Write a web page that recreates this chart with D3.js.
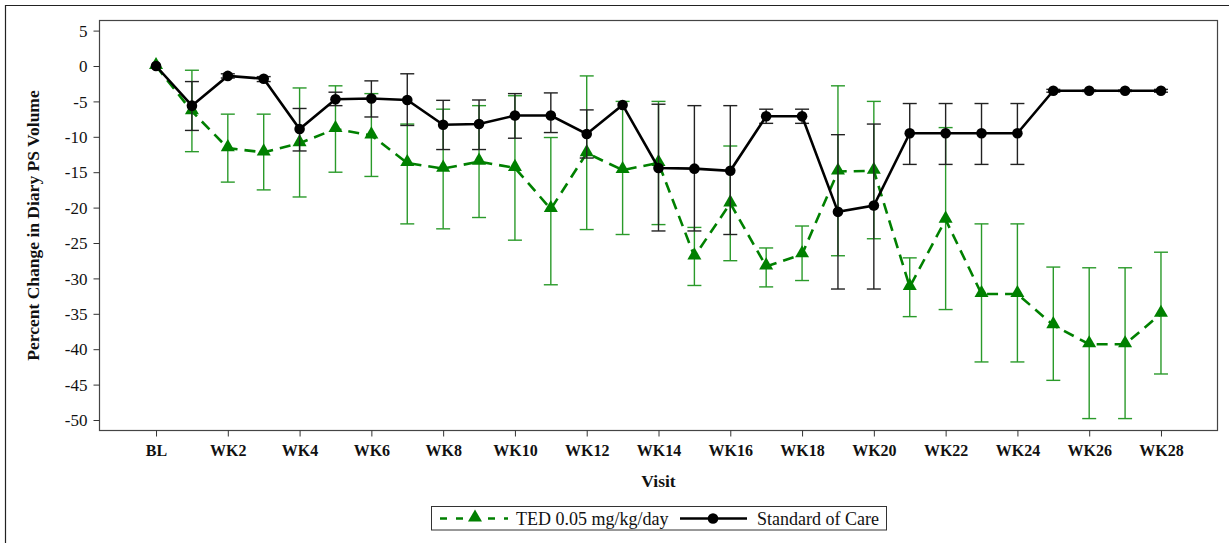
<!DOCTYPE html>
<html>
<head>
<meta charset="utf-8">
<script src="https://cdn.jsdelivr.net/npm/d3@7/dist/d3.min.js"></script>
<style>
  html, body { margin: 0; padding: 0; background: #fff; }
  svg { display: block; }
  svg text { font-family: "Liberation Serif", "Times New Roman", Times, serif !important; }
</style>
</head>
<body>
<div id="chart"></div>
<script>
// Visits: baseline plus weekly visits 1..28
const visits = ["BL"].concat(d3.range(1, 29).map(i => "WK" + i));
const tickVisits = visits.filter((v, i) => i % 2 === 0);
const yTicks = [5, 0, -5, -10, -15, -20, -25, -30, -35, -40, -45, -50];

// TED 0.05 mg/kg/day: mean percent change with lower/upper error limits
const tedMean = [0, -6.4, -11.6, -12.2, -10.9, -8.9, -9.8, -13.7, -14.5, -13.5, -14.4, -20.2, -12.3, -14.7,
  -13.7, -26.9, -19.4, -28.3, -26.6, -14.9, -14.8, -31.2, -21.7, -32.2, -32.2, -36.6, -39.3, -39.3, -35.0];
const tedLow = [0, -12.1, -16.4, -17.5, -18.5, -15.0, -15.6, -22.3, -23.0, -21.4, -24.6, -30.9, -23.1, -23.8,
  -22.4, -31.0, -27.5, -31.2, -30.3, -26.8, -24.4, -35.4, -34.4, -41.8, -41.8, -44.4, -49.8, -49.8, -43.5];
const tedHigh = [0, -0.6, -6.8, -6.8, -3.1, -2.8, -3.9, -8.2, -6.1, -5.6, -4.2, -10.1, -1.4, -5.0,
  -5.0, -22.8, -11.3, -25.7, -22.6, -2.8, -5.0, -27.1, -8.7, -22.3, -22.3, -28.4, -28.5, -28.5, -26.3];

// Standard of Care: mean percent change with lower/upper error limits
const socMean = [0, -5.6, -1.4, -1.8, -8.9, -4.7, -4.6, -4.8, -8.3, -8.2, -7.0, -7.0, -9.6, -5.5,
  -14.4, -14.5, -14.8, -7.1, -7.1, -20.6, -19.7, -9.5, -9.5, -9.5, -9.5, -3.5, -3.5, -3.5, -3.5];
const socLow = [0, -9.1, -1.7, -2.2, -12.0, -5.6, -7.2, -8.4, -11.8, -11.8, -10.2, -9.4, -13.0, -5.5,
  -23.3, -23.3, -23.8, -8.1, -8.1, -31.5, -31.5, -13.9, -13.9, -13.9, -13.9, -3.7, -3.6, -3.6, -3.7];
const socHigh = [0, -2.2, -1.1, -1.5, -6.0, -3.7, -2.1, -1.1, -4.85, -4.8, -3.9, -3.8, -6.2, -5.5,
  -5.4, -5.6, -5.6, -6.1, -6.1, -9.7, -8.2, -5.3, -5.3, -5.3, -5.3, -3.3, -3.4, -3.4, -3.3];

const seriesNames = ["TED 0.05 mg/kg/day", "Standard of Care"];

const W = 1229, H = 543;
const plot = { left: 99.5, top: 20.5, right: 1217.5, bottom: 430.5 };

const svg = d3.select("#chart").append("svg")
  .attr("width", W).attr("height", H);

// outer frame
svg.append("path")
  .attr("d", `M5.5,${H + 2} V5.5 H${W + 2}`)
  .attr("fill", "none").attr("stroke", "#222").attr("stroke-width", 1.2);

const x = d3.scalePoint().domain(visits).range([plot.left, plot.right]).padding(1.575);
const y = d3.scaleLinear().domain([-50, 5]).range([420, 30.6]);

// plot frame
svg.append("rect")
  .attr("x", plot.left).attr("y", plot.top)
  .attr("width", plot.right - plot.left).attr("height", plot.bottom - plot.top)
  .attr("fill", "none").attr("stroke", "#444").attr("stroke-width", 1.2);

// y axis (plain hyphen for negative values)
const yAxis = svg.append("g")
  .attr("transform", `translate(${plot.left},0)`)
  .call(d3.axisLeft(y).tickValues(yTicks).tickSize(6).tickSizeOuter(0).tickFormat(d => String(d)));
yAxis.attr("font-family", null);
yAxis.select(".domain").remove();
yAxis.selectAll(".tick line").attr("stroke", "#333");
yAxis.selectAll(".tick text")
  .attr("font-size", 17).attr("fill", "#111").attr("x", -12).attr("dy", "0.34em");

// x axis
const xAxis = svg.append("g")
  .attr("transform", `translate(0,${plot.bottom})`)
  .call(d3.axisBottom(x).tickValues(tickVisits).tickSize(6).tickSizeOuter(0));
xAxis.attr("font-family", null);
xAxis.select(".domain").remove();
xAxis.selectAll(".tick line").attr("stroke", "#333");
xAxis.selectAll(".tick text")
  .attr("font-size", 16).attr("font-weight", "bold").attr("fill", "#111").attr("y", 14);

// axis titles
svg.append("text")
  .attr("x", (plot.left + plot.right) / 2).attr("y", 487)
  .attr("text-anchor", "middle").attr("font-size", 17.5).attr("font-weight", "bold")
  .attr("fill", "#111").text("Visit");
svg.append("text")
  .attr("transform", `translate(39,${(plot.top + plot.bottom) / 2}) rotate(-90)`)
  .attr("text-anchor", "middle").attr("font-size", 17.5).attr("font-weight", "bold")
  .attr("fill", "#111").text("Percent Change in Diary PS Volume");

const green = "#008000";
const greenBar = "#2a9a2a";
const black = "#000";
const capHalf = 7;

function errorBars(g, low, high, color, width) {
  const idx = d3.range(visits.length).filter(i => low[i] !== high[i]);
  const eb = g.append("g").attr("stroke", color).attr("stroke-width", width).attr("fill", "none");
  eb.selectAll("line.v").data(idx).join("line").attr("class", "v")
    .attr("x1", i => x(visits[i])).attr("x2", i => x(visits[i]))
    .attr("y1", i => y(high[i])).attr("y2", i => y(low[i]));
  eb.selectAll("line.hi").data(idx).join("line").attr("class", "hi")
    .attr("x1", i => x(visits[i]) - capHalf).attr("x2", i => x(visits[i]) + capHalf)
    .attr("y1", i => y(high[i])).attr("y2", i => y(high[i]));
  eb.selectAll("line.lo").data(idx).join("line").attr("class", "lo")
    .attr("x1", i => x(visits[i]) - capHalf).attr("x2", i => x(visits[i]) + capHalf)
    .attr("y1", i => y(low[i])).attr("y2", i => y(low[i]));
}

const line = d3.line().x((d, i) => x(visits[i])).y(d => y(d));
const tri = d3.symbol().type(d3.symbolTriangle).size(85);

const marks = svg.append("g");

// TED series
errorBars(marks, tedLow, tedHigh, greenBar, 1.4);
marks.append("path").datum(tedMean)
  .attr("d", line).attr("fill", "none").attr("stroke", green)
  .attr("stroke-width", 2.6).attr("stroke-dasharray", "11,7");
marks.append("g").selectAll("path").data(tedMean).join("path")
  .attr("d", tri)
  .attr("transform", (d, i) => `translate(${x(visits[i])},${y(d) - 1})`)
  .attr("fill", green);

// Standard of Care series
errorBars(marks, socLow, socHigh, "#222", 1.4);
marks.append("path").datum(socMean)
  .attr("d", line).attr("fill", "none").attr("stroke", black).attr("stroke-width", 2.6);
marks.append("g").selectAll("circle").data(socMean).join("circle")
  .attr("cx", (d, i) => x(visits[i])).attr("cy", d => y(d)).attr("r", 5.3)
  .attr("fill", black);

// legend
const lg = svg.append("g");
lg.append("rect").attr("x", 431.5).attr("y", 506.5).attr("width", 455).attr("height", 23.5)
  .attr("fill", "#fff").attr("stroke", "#333").attr("stroke-width", 1);
const ly = 518.5;
lg.append("line").attr("x1", 440).attr("x2", 508).attr("y1", ly).attr("y2", ly)
  .attr("stroke", green).attr("stroke-width", 2.6).attr("stroke-dasharray", "7,9");
lg.append("path").attr("d", tri).attr("transform", `translate(475,${ly - 1})`).attr("fill", green);
lg.append("text").attr("x", 516).attr("y", ly + 6).attr("font-size", 18).attr("fill", "#111")
  .text(seriesNames[0]);
lg.append("line").attr("x1", 680).attr("x2", 747).attr("y1", ly).attr("y2", ly)
  .attr("stroke", black).attr("stroke-width", 2.6);
lg.append("circle").attr("cx", 713).attr("cy", ly).attr("r", 5.3).attr("fill", black);
lg.append("text").attr("x", 757).attr("y", ly + 6).attr("font-size", 18).attr("fill", "#111")
  .text(seriesNames[1]);
</script>
</body>
</html>
